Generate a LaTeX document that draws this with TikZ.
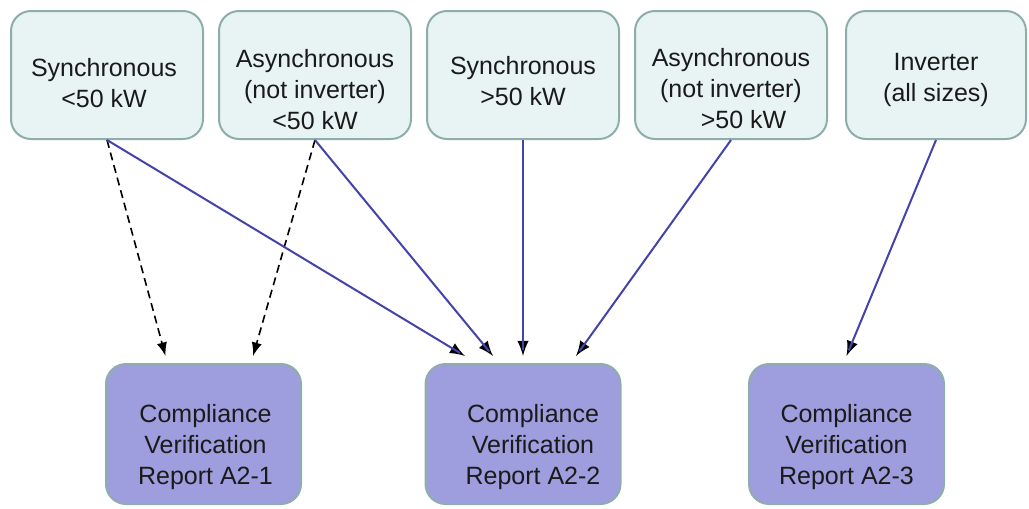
\documentclass[tikz,border=0pt]{standalone}
\usepackage{fontspec}
\setmainfont{Liberation Sans}
\usepackage{tikz}
\usetikzlibrary{positioning, decorations.markings}
\definecolor{srcfill}{HTML}{E8F4F4}
\definecolor{boxline}{HTML}{8FAEAB}
\definecolor{repfill}{HTML}{9E9DDE}
\definecolor{linkblue}{HTML}{4343AA}
\definecolor{ink}{HTML}{1A1A1A}
\tikzstyle{Arrow} = [
    line width = 1pt,
    color = linkblue,
    decoration={
        markings,
		mark=at position 1 with {
            \arrow[solid, scale=1.3]{latex}
		}
	},
	shorten >= 3pt, preaction = {decorate}
]
\tikzstyle{DashArrow} = [
    Arrow,
    color = black,
    line width = 0.8pt,
    dash pattern = on 4pt off 2.5pt
]

\begin{document}
\begin{tikzpicture}[
x = 0.5pt, y = -0.5pt,
source/.style={
    rectangle,
    rounded corners = 10pt,
    draw = boxline,
    line width = 1pt,
    fill = srcfill,
    minimum width = 96pt,
    minimum height = 64pt
    },
report/.style={
    source,
    fill = repfill,
    minimum width = 97.5pt,
    minimum height = 70pt
    },
txt/.style={
    align = center,
    text = ink,
    font = \fontsize{12.5}{15.5}\selectfont
    }
]
\useasboundingbox (0,0) rectangle (1029,509);

% generator types
\node [source] (synlo) at (107,75) {};
\node [source, right = 7pt of synlo] (asylo) {};
\node [source, right = 7pt of asylo] (synhi) {};
\node [source, right = 7pt of synhi] (asyhi) {};
\node [source, minimum width = 90pt, right = 8.5pt of asyhi] (inv) {};

\node [txt] (synlo-t) at ([xshift=-1.5pt, yshift=-4pt]synlo.center) {Synchronous\\<50 kW};
\node [txt] (asylo-t) at ([yshift=-7.5pt]asylo.center) {Asynchronous\\(not inverter)\\<50 kW};
\node [txt] (synhi-t) at ([yshift=-3pt]synhi.center) {Synchronous\\>50 kW};
\node [txt] (asyhi-t) at ([yshift=-7pt]asyhi.center) {Asynchronous\\(not inverter)\\\hspace{1em}>50 kW};
\node [txt] (inv-t) at ([yshift=-2.5pt]inv.center) {Inverter\\(all sizes)};

% reports
\node [report] (rep1) at (203.5,434) {};
\node [report, below = 111.5pt of synhi] (rep2) {};
\node [report] (rep3) at (846.5,434) {};

\node [txt] (rep1-t) at ([xshift=1pt, yshift=-6.5pt]rep1.center) {Compliance\\Verification\\Report A2-1};
\node [txt] (rep2-t) at ([xshift=5pt, yshift=-6.5pt]rep2.center) {Compliance\\Verification\\Report A2-2};
\node [txt] (rep3-t) at ([yshift=-6.5pt]rep3.center) {Compliance\\Verification\\Report A2-3};

\draw[DashArrow] (synlo.south) -- ([xshift=-19pt, yshift=3.5pt]rep1.north);
\draw[DashArrow] (asylo.south) -- ([xshift=24.75pt, yshift=3.5pt]rep1.north);

\draw[Arrow] (synlo.south) -- ([xshift=-29pt, yshift=3.5pt]rep2.north);
\draw[Arrow] (asylo.south) -- ([xshift=-15pt, yshift=3.5pt]rep2.north);
\draw[Arrow] (synhi.south) -- ([yshift=3.5pt]rep2.north);
\draw[Arrow] (asyhi.south) -- ([xshift=26.5pt, yshift=3.5pt]rep2.north);

\draw[Arrow] (inv.south) -- ([yshift=3.5pt]rep3.north);

\end{tikzpicture}
\end{document}
